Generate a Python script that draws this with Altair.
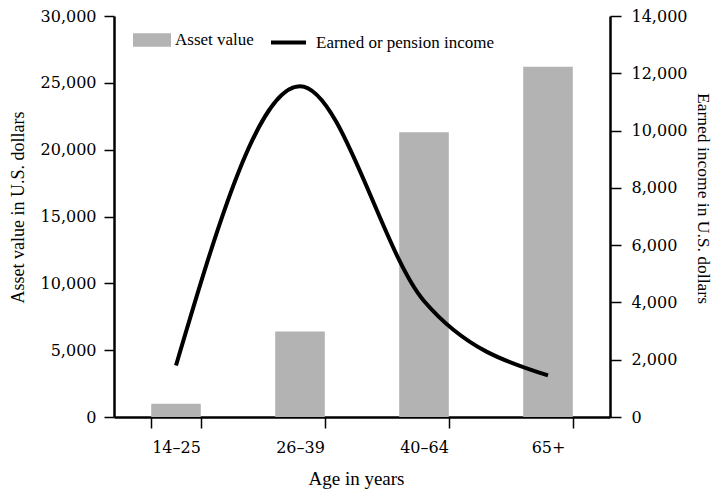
import altair as alt
import pandas as pd

ages = ["14–25", "26–39", "40–64", "65+"]
asset_value = [1000, 6400, 21300, 26200]
earned_income = [1800, 11550, 4050, 1450]
left_ticks = [0, 5000, 10000, 15000, 20000, 25000, 30000]
right_ticks = [0, 2000, 4000, 6000, 8000, 10000, 12000, 14000]

df = pd.DataFrame({
    "age": ages,
    "asset": asset_value,
    "income": earned_income,
    "asset_label": ["Asset value"] * len(ages),
    "income_label": ["Earned or pension income"] * len(ages),
})

FONT = "Liberation Serif"
NUMFONT = "DejaVu Serif"
GRAY = "#b3b3b3"

x_bar = alt.X(
    "age:N", sort=ages,
    scale=alt.Scale(paddingInner=0.6, paddingOuter=0.3),
    axis=alt.Axis(
        title="Age in years", labelAngle=0, tickBand="extent",
        tickSize=11, labelPadding=24, labelBaseline="alphabetic",
        titleX=242, titleY=67, titleBaseline="alphabetic",
    ),
)

bars = alt.Chart(df).mark_bar().encode(
    x=x_bar,
    y=alt.Y(
        "asset:Q",
        scale=alt.Scale(domain=[0, 30000], nice=False),
        axis=alt.Axis(
            title="Asset value in U.S. dollars", orient="left",
            values=left_ticks, format=",.0f", tickSize=10, labelPadding=8,
            titleX=-91, titleY=191, titleBaseline="alphabetic",
        ),
    ),
    fill=alt.Fill(
        "asset_label:N",
        scale=alt.Scale(domain=["Asset value"], range=[GRAY]),
        legend=alt.Legend(
            title=None, orient="none", legendX=19, legendY=5, padding=0,
            symbolType="M-1,-0.35H1V0.35H-1Z", symbolSize=1444,
            symbolStrokeWidth=0, labelFont=FONT, labelFontSize=17,
            labelColor="black", labelOffset=4, labelLimit=400,
        ),
    ),
)

line = alt.Chart(df).mark_line(interpolate="monotone", strokeWidth=4).encode(
    x=alt.X("age:N", sort=ages),
    y=alt.Y(
        "income:Q",
        scale=alt.Scale(domain=[0, 14000], nice=False),
        axis=alt.Axis(
            title="Earned income in U.S. dollars", orient="right",
            values=right_ticks, format=",.0f", tickSize=11, labelPadding=10,
            titleX=87, titleY=182, titleBaseline="alphabetic", titleFontSize=17.5,
        ),
    ),
    stroke=alt.Stroke(
        "income_label:N",
        scale=alt.Scale(domain=["Earned or pension income"], range=["black"]),
        legend=alt.Legend(
            title=None, orient="none", legendX=155, legendY=7, padding=0,
            symbolType="stroke", symbolSize=1225, symbolStrokeWidth=4,
            labelFont=FONT, labelFontSize=17, labelColor="black", labelOffset=8,
            labelLimit=400,
        ),
    ),
)

chart = (
    alt.layer(bars, line)
    .resolve_scale(y="independent", fill="independent", stroke="independent")
    .properties(
        width=496, height=401,
        autosize=alt.AutoSizeParams(type="none"),
        padding={"left": 106, "top": 8, "right": 103, "bottom": 80},
    )
    .configure_view(stroke=None)
    .configure_axis(
        labelFont=NUMFONT, labelFontSize=16, labelColor="black",
        titleFont=FONT, titleFontSize=18, titleFontWeight="normal", titleColor="black",
        domainColor="black", domainWidth=2.5, tickColor="black", tickWidth=1.5,
        grid=False,
    )
    .configure_axisBottom(titleFontSize=19)
)

chart.save("out.html", embed_options={"renderer": "svg", "actions": False})
